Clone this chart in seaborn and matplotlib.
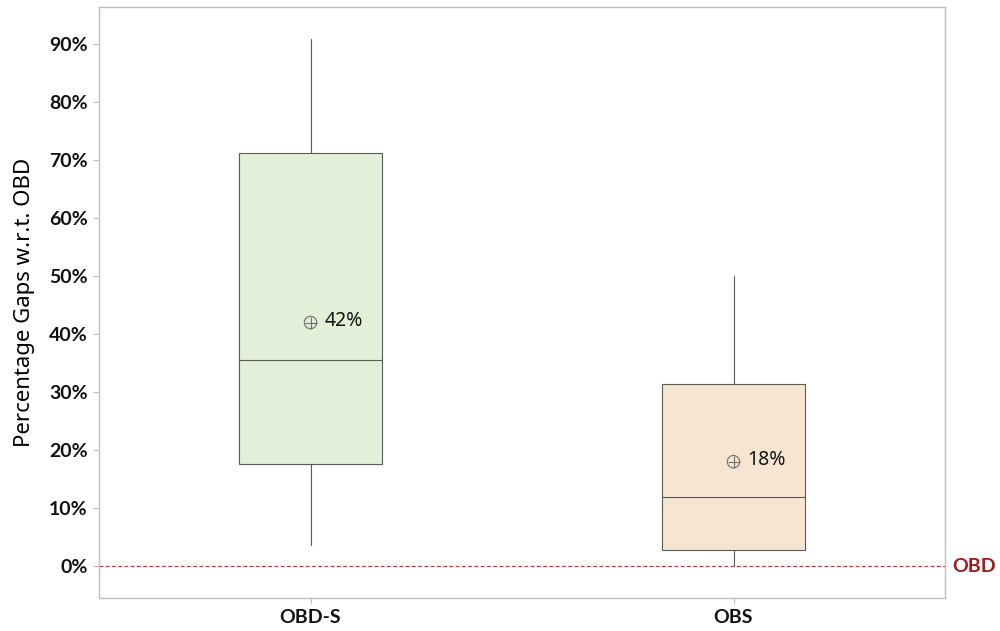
import matplotlib
matplotlib.use("Agg")
import matplotlib.pyplot as plt
import seaborn as sns
from matplotlib.ticker import FuncFormatter

# Summary statistics of the percentage gaps (in %)
groups = ["OBD-S", "OBS"]
whisker_low = [3.6, 0.0]
q1 = [17.6, 2.8]
median = [35.5, 11.9]
q3 = [71.2, 31.4]
whisker_high = [90.9, 50.0]
means = [42, 18]
box_colors = ["#E2EFD9", "#F6E6D1"]

sns.set_theme(style="white")
plt.rcParams["font.family"] = ["Noto Sans", "DejaVu Sans"]
BOLD_FONT = ["Lato", "DejaVu Sans"]

fig = plt.figure(figsize=(10, 6.31), dpi=100)
ax = fig.add_axes([0.099, 0.0523, 0.846, 0.9366])

stats = [
    dict(label=g, whislo=lo, q1=a, med=m, q3=b, whishi=hi, mean=mu, fliers=[])
    for g, lo, a, m, b, hi, mu in zip(groups, whisker_low, q1, median, q3, whisker_high, means)
]
edge = "#5A5A5A"
bp = ax.bxp(
    stats, positions=[0, 1], widths=0.336, patch_artist=True, showcaps=False,
    showmeans=False, manage_ticks=False,
    boxprops=dict(edgecolor=edge, linewidth=0.8),
    whiskerprops=dict(color=edge, linewidth=0.8),
    medianprops=dict(color=edge, linewidth=0.8),
)
for patch, c in zip(bp["boxes"], box_colors):
    patch.set_facecolor(c)

# Mean markers (circle with cross) and their labels
sns.scatterplot(x=[0, 1], y=means, ax=ax, marker="o", s=80, facecolor="none",
                edgecolor="#6E6E6E", linewidth=0.8, zorder=5, legend=False)
sns.scatterplot(x=[0, 1], y=means, ax=ax, marker="+", s=80, color="#6E6E6E",
                linewidth=0.8, zorder=5, legend=False)
for x, mu in zip([0, 1], means):
    ax.annotate(f"{mu:.0f}%", (x, mu), xytext=(10, 1), textcoords="offset points",
                va="center", ha="left", fontsize=14, color="#111111")

# Reference line for OBD
ax.axhline(0, color="#E8262A", linestyle=(0, (3, 2)), linewidth=0.9, zorder=1)
ax.text(1.008, 0, "OBD", transform=ax.get_yaxis_transform(), va="center", ha="left",
        fontsize=14, fontweight="bold", color="#A01818", family=BOLD_FONT)

ax.set_xlim(-0.5, 1.5)
ax.set_ylim(-5.5, 96.4)
ax.set_yticks(range(0, 100, 10))
ax.yaxis.set_major_formatter(FuncFormatter(lambda v, _: f"{v:.0f}%"))
ax.set_xticks([0, 1])
ax.set_xticklabels(groups)
ax.set_ylabel("Percentage Gaps w.r.t. OBD", fontsize=16, labelpad=10,
              color="#000000")

for lab in ax.get_yticklabels() + ax.get_xticklabels():
    lab.set_family(BOLD_FONT)
    lab.set_fontweight("bold")
    lab.set_fontsize(14)
    lab.set_color("#111111")
ax.tick_params(axis="both", which="major", length=4, width=0.8, color="#BFBFBF",
               left=True, bottom=True, pad=4)
for sp in ax.spines.values():
    sp.set_color("#BFBFBF")
    sp.set_linewidth(1.0)

fig.savefig("out.png", dpi=100)
